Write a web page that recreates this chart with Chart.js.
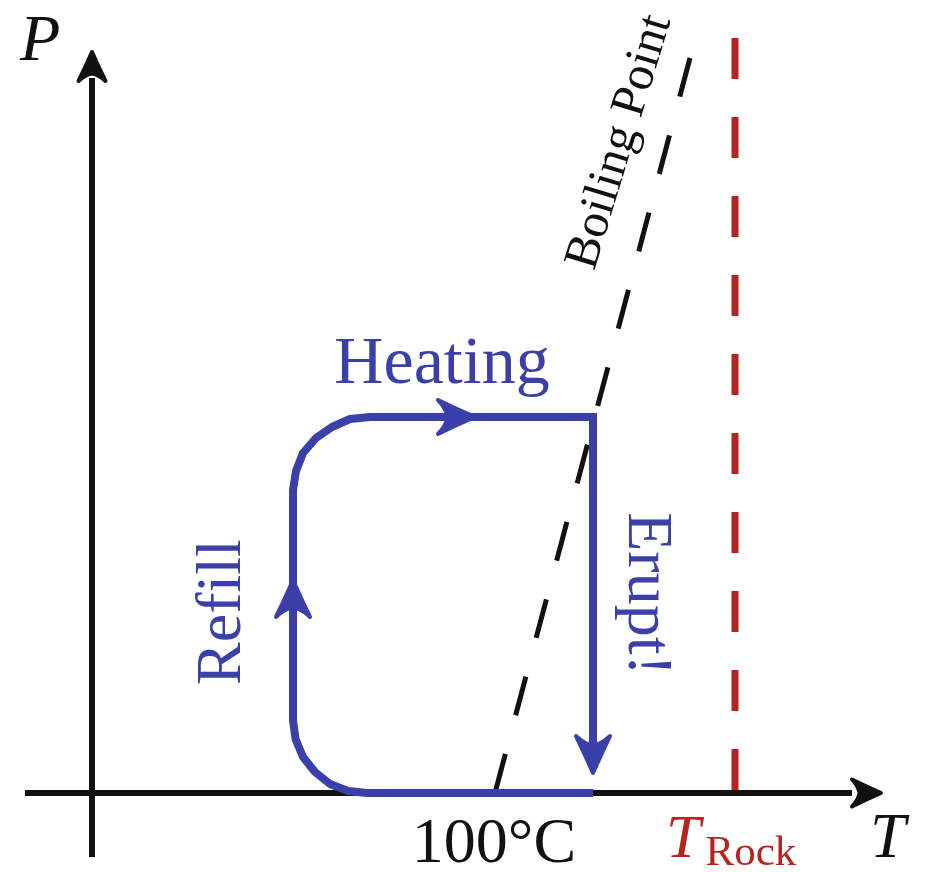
<!DOCTYPE html>
<html>
<head>
<meta charset="utf-8">
<script src="https://cdn.jsdelivr.net/npm/chart.js@4/dist/chart.umd.min.js"></script>
<style>
  html, body { margin: 0; padding: 0; background: #fff; }
  #wrap { width: 927px; height: 872px; }
</style>
</head>
<body>
<div id="wrap"><canvas id="grafico"></canvas></div>
<script>
// schematic P-T diagram, 1 unit = 100 px, origin where the axes cross
const tAxisT = [-0.67, 7.6];
const tAxisP = [0, 0];
const pAxisT = [0, 0];
const pAxisP = [-0.64, 7.15];

const boilingT = [5.98, 4.03];
const boilingP = [7.35, 0];

const rockT = [6.43, 6.43];
const rockP = [7.55, 0];

// refill + heating path (bottom right -> round corner -> up the left side -> round corner -> across the top)
const cycleT = [5.01, 2.75, 2.56, 2.38, 2.23, 2.11, 2.035, 2.01, 2.01, 2.04, 2.11, 2.24, 2.40, 2.58, 2.78, 5.01];
const cycleP = [0, 0, 0.02, 0.09, 0.21, 0.36, 0.54, 0.73, 3.03, 3.22, 3.40, 3.55, 3.66, 3.74, 3.76, 3.76];

const eruptT = [5.01, 5.01];
const eruptP = [3.76, 0.4];

// arrow tips: P axis, T axis, heating, refill, erupt
const arrowT = [0, 7.89, 3.83, 2.01, 5.01];
const arrowP = [7.41, 0, 3.76, 2.13, 0.2];
const arrowDir = ['up', 'right', 'right', 'up', 'down'];

const azul = '#3a40a8';
const preto = '#111111';
const vermelho = '#b5241f';

const pares = (xs, ys) => xs.map((x, i) => ({ x: x, y: ys[i] }));

function linha(xs, ys, cor, largura, extra) {
    return Object.assign({
        data: pares(xs, ys), showLine: true, borderColor: cor, backgroundColor: cor,
        borderWidth: largura, pointRadius: 0, pointHoverRadius: 0, fill: false, tension: 0
    }, extra || {});
}

function ponta(ctx, x, y, dir, len, half) {
    const ang = { up: -Math.PI / 2, down: Math.PI / 2, right: 0, left: Math.PI }[dir];
    ctx.save();
    ctx.translate(x, y);
    ctx.rotate(ang);
    ctx.beginPath();
    ctx.moveTo(0, 0);
    ctx.quadraticCurveTo(-len * 0.5, -half * 0.47, -len, -half);
    ctx.quadraticCurveTo(-len * 0.78, -half * 0.5, -len * 0.74, 0);
    ctx.quadraticCurveTo(-len * 0.78, half * 0.5, -len, half);
    ctx.quadraticCurveTo(-len * 0.5, half * 0.47, 0, 0);
    ctx.closePath();
    ctx.fill();
    ctx.lineJoin = 'round';
    ctx.lineWidth = 4;
    ctx.stroke();
    ctx.restore();
}

const textos = [
    { txt: 'P', t: -0.72, p: 7.33, font: 'italic 66px "Liberation Serif"', cor: preto, align: 'left', base: 'alphabetic', rot: 0 },
    { txt: 'T', t: 7.78, p: -0.64, font: 'italic 64px "Liberation Serif"', cor: preto, align: 'left', base: 'alphabetic', rot: 0 },
    { txt: '100°C', t: 4.02, p: -0.69, font: '64px "Liberation Serif"', cor: preto, align: 'center', base: 'alphabetic', rot: 0 },
    { txt: 'Heating', t: 3.5, p: 4.1, font: '68px "Liberation Serif"', cor: azul, align: 'center', base: 'alphabetic', rot: 0 },
    { txt: 'Refill', t: 1.31, p: 1.81, font: '64px "Liberation Serif"', cor: azul, align: 'center', base: 'middle', rot: -90 },
    { txt: 'Erupt!', t: 5.54, p: 1.99, font: '64px "Liberation Serif"', cor: azul, align: 'center', base: 'middle', rot: 90 },
    { txt: 'Boiling Point', t: 5.28, p: 6.51, font: '49px "Liberation Serif"', cor: preto, align: 'center', base: 'middle', rot: -73 }
];

const decoracao = {
    id: 'decoracao',
    afterDatasetsDraw(chart) {
        const ctx = chart.ctx;
        const sx = chart.scales.x, sy = chart.scales.y;
        arrowT.forEach((t, i) => {
            const eixo = i < 2;
            ctx.fillStyle = eixo ? preto : azul;
            ctx.strokeStyle = eixo ? preto : azul;
            const len = eixo ? 29 : 37;
            const half = eixo ? 13.5 : 17;
            ponta(ctx, sx.getPixelForValue(t), sy.getPixelForValue(arrowP[i]), arrowDir[i], len, half);
        });
        textos.forEach(o => {
            ctx.save();
            ctx.translate(sx.getPixelForValue(o.t), sy.getPixelForValue(o.p));
            ctx.rotate(o.rot * Math.PI / 180);
            ctx.font = o.font;
            ctx.fillStyle = o.cor;
            ctx.textAlign = o.align;
            ctx.textBaseline = o.base;
            ctx.fillText(o.txt, 0, 0);
            ctx.restore();
        });
        // T_Rock with subscript
        const x0 = sx.getPixelForValue(5.74), y0 = sy.getPixelForValue(-0.64);
        ctx.save();
        ctx.fillStyle = vermelho;
        ctx.textAlign = 'left';
        ctx.textBaseline = 'alphabetic';
        ctx.font = 'italic 62px "Liberation Serif"';
        ctx.fillText('T', x0, y0);
        const w = ctx.measureText('T').width;
        ctx.font = '43px "Liberation Serif"';
        ctx.fillText('Rock', x0 + w + 5, y0 + 8);
        ctx.restore();
    }
};

new Chart(document.getElementById('grafico').getContext('2d'), {
    type: 'scatter',
    data: {
        datasets: [
            linha(cycleT, cycleP, azul, 8, { borderJoinStyle: 'round', order: 1 }),
            linha(eruptT, eruptP, azul, 8, { borderCapStyle: 'square', order: 1 }),
            linha(boilingT, boilingP, preto, 5, { borderDash: [40, 40], order: 3 }),
            linha(rockT, rockP, vermelho, 7, { borderDash: [41, 38], order: 3 }),
            linha(tAxisT, tAxisP, preto, 6, { order: 5 }),
            linha(pAxisT, pAxisP, preto, 6, { order: 5 })
        ]
    },
    options: {
        responsive: true,
        maintainAspectRatio: false,
        animation: false,
        layout: { padding: 0 },
        plugins: { legend: { display: false }, tooltip: { enabled: false } },
        scales: {
            x: { type: 'linear', min: -0.92, max: 8.35, display: false },
            y: { type: 'linear', min: -0.79, max: 7.93, display: false }
        }
    },
    plugins: [decoracao]
});
</script>
</body>
</html>
